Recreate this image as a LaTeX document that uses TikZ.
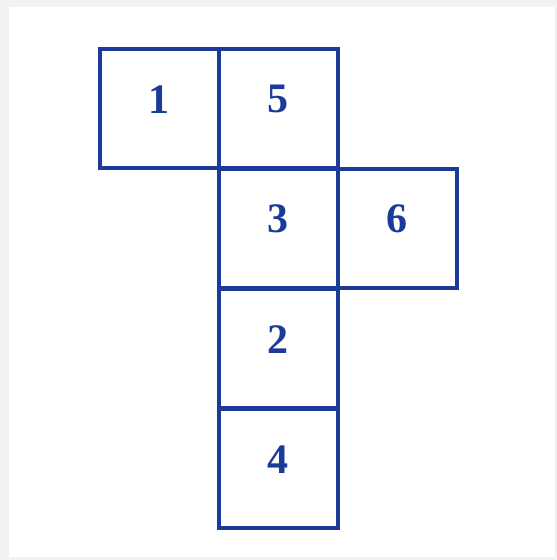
\documentclass[tikz,border=0pt]{standalone}
\usepackage{fontspec}
\setmainfont{Liberation Serif}
\definecolor{netblue}{RGB}{28,58,152}
\definecolor{framegray}{RGB}{242,242,242}
\begin{document}
\begin{tikzpicture}[x=1pt,y=-1pt,
  cell/.style={draw=netblue,line width=3.5pt,minimum size=119pt,inner sep=0pt,anchor=north west},
  num/.style={text=netblue,font=\fontsize{42}{42}\selectfont\bfseries,inner sep=0pt}]
\useasboundingbox (0,0) rectangle (557,560);
\fill[framegray] (0,0) rectangle (557,560);
\fill[white] (9,7) rectangle (555,557);
\node[cell] (c1) at (98,47) {};
\node[cell] (c5) at (217,47) {};
\node[cell] (c3) at (217,167) {};
\node[cell] (c6) at (336,167) {};
\node[cell] (c2) at (217,287) {};
\node[cell] (c4) at (217,407) {};
\foreach \n in {1,5,3,6,2,4}
  \node[num] at ([yshift=9pt]c\n.center) {\n};
\end{tikzpicture}
\end{document}
